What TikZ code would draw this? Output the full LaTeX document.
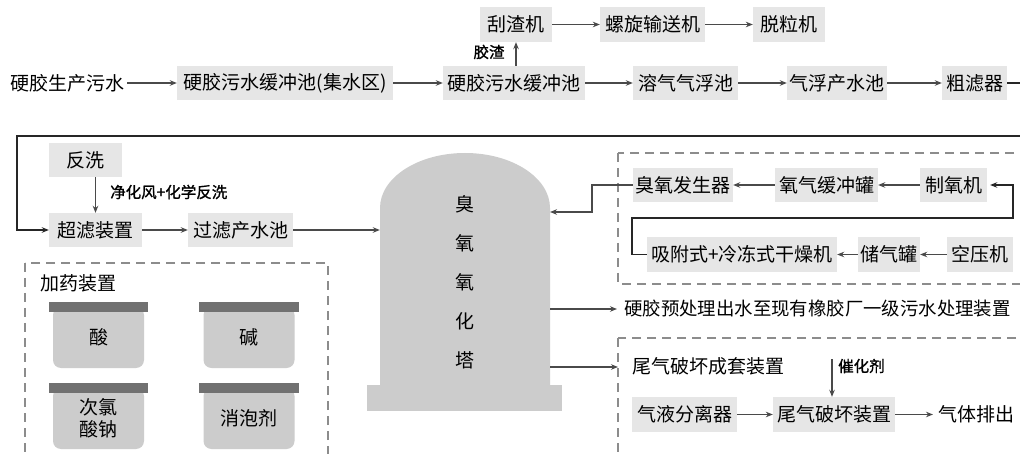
\documentclass[tikz,border=0pt]{standalone}
\usepackage{fontspec}
\setmainfont{Noto Sans CJK SC}
\newfontfamily\lblfont[FakeBold=1.2]{Noto Sans CJK SC}
\usetikzlibrary{arrows.meta}
\definecolor{boxgray}{HTML}{E6E6E6}
\definecolor{tankgray}{HTML}{CCCCCC}
\definecolor{lidgray}{HTML}{717171}
\definecolor{dashgray}{HTML}{8C8C8C}
\definecolor{linegray}{HTML}{4A4A4A}
\begin{document}
\begin{tikzpicture}[x=1pt,y=-1pt,
  font=\fontsize{19}{22}\selectfont,
  box/.style={fill=boxgray, inner sep=0pt, minimum height=34pt, text=black},
  plain/.style={inner sep=1pt, text=black},
  lbl/.style={inner sep=1pt, text=black, font=\lblfont\fontsize{15.5}{18}\selectfont},
  arr/.style={draw=linegray, line width=1.2pt, -{Stealth[length=7pt,width=5.5pt]}},
  fb/.style={draw=black!85, line width=1.7pt},
  fbarr/.style={fb, -{Stealth[length=7pt,width=5.5pt]}},
  dbox/.style={draw=dashgray, line width=2pt, dash pattern=on 9pt off 6pt},
  tank/.style={fill=tankgray, rounded corners=8pt, minimum width=91pt, minimum height=61pt, inner sep=0pt, text=black},
  lid/.style={fill=lidgray}]
\useasboundingbox (0,0) rectangle (1020,454);
\clip (0,0) rectangle (1020,454);
\fill[white] (0,0) rectangle (1020,454);

% row 1
\node[plain] (src) at (67,83) {硬胶生产污水};
\node[box, minimum width=216pt] (b1) at (285,83) {硬胶污水缓冲池(集水区)};
\node[box, minimum width=142pt] (b2) at (514,83) {硬胶污水缓冲池};
\node[box, minimum width=105pt] (b3) at (685.5,83) {溶气气浮池};
\node[box, minimum width=100pt] (b4) at (837,83) {气浮产水池};
\node[box, minimum width=65pt] (b5) at (974.5,83) {粗滤器};
% top row
\node[box, minimum width=72pt, minimum height=35pt] (t1) at (516,24.5) {刮渣机};
\node[box, minimum width=105pt, minimum height=35pt] (t2) at (652.5,24.5) {螺旋输送机};
\node[box, minimum width=72pt, minimum height=35pt] (t3) at (789,24.5) {脱粒机};
\node[lbl] (jz) at (489,52) {胶渣};

\draw[arr] ([xshift=2pt]src.east) -- (b1.west);
\draw[arr] (b1.east) -- (b2.west);
\draw[arr] (b2.east) -- (b3.west);
\draw[arr] (b3.east) -- (b4.west);
\draw[arr] (b4.east) -- (b5.west);
\draw[arr] (t1.south |- b2.north) -- (t1.south);
\draw[arr] (t1.east) -- (t2.west);
\draw[arr] (t2.east) -- (t3.west);

% row 2
\node[box, minimum width=73pt] (fx) at (85.5,160) {反洗};
\node[box, minimum width=93pt] (uf) at (95.5,230) {超滤装置};
\node[box, minimum width=105pt] (pool) at (240.5,230) {过滤产水池};
\node[lbl, anchor=west] (jh) at (109,192) {净化风+化学反洗};
\draw[arr] (uf.north |- fx.south) -- (uf.north);
\draw[arr] (uf.east) -- (pool.west);
\draw[fbarr] (b5.east) -- (1030,83) -- (1030,136) -- (17,136) -- (17,230) -- (uf.west);

% tower
\fill[tankgray] (380,385) -- (380,208) arc[start angle=180, end angle=360, x radius=85, y radius=55] -- (550,385) -- cycle;
\fill[tankgray] (367,385) rectangle (562,411);
\node[inner sep=0pt, minimum width=170pt, minimum height=232pt] (tower) at (465,269) {};
\foreach \c [count=\i] in {臭,氧,氧,化,塔}
  \node[plain] (tw\i) at (465,{204+39*(\i-1)}) {\c};
\draw[arr] (pool.east) -- (tower.west |- pool.east);

% ozone box
\draw[dbox] (618,153) rectangle (1030,284);
\node[box, minimum width=100pt] (g1) at (683,185) {臭氧发生器};
\node[box, minimum width=103pt] (g2) at (826.5,185) {氧气缓冲罐};
\node[box, minimum width=67pt] (g3) at (953.5,185) {制氧机};
\node[box, minimum width=190pt, minimum height=35pt] (g4) at (742,254.5) {吸附式+冷冻式干燥机};
\node[box, minimum width=62pt, minimum height=35pt] (g5) at (889,254.5) {储气罐};
\node[box, minimum width=66pt, minimum height=35pt] (g6) at (980,254.5) {空压机};
\draw[arr] (g3.west) -- (g2.east);
\draw[arr] (g2.west) -- (g1.east);
\draw[arr] (g6.west) -- (g5.east);
\draw[arr] (g5.west) -- (g4.east);
\draw[fbarr] (g4.west) -- (632,254.5) -- (632,218) -- (1013,218) |- ([xshift=3pt]g3.east);
\coordinate (tin) at (550,212);
\draw[arr] (g1.west) -- (592,185) -- (592,212) -- (tin);

% outputs
\node[plain, anchor=west, inner sep=0pt, font=\fontsize{18.4}{22}\selectfont] (out1) at (624,309) {硬胶预处理出水至现有橡胶厂一级污水处理装置};
\coordinate (e1) at (617,309);
\coordinate (e2) at (618,367);
\draw[arr] (tower.east |- e1) -- (e1);
\draw[arr] (tower.east |- e2) -- (e2);

% tail gas box
\draw[dbox] (618,338) rectangle (1030,470);
\node[plain, anchor=west, inner sep=0pt] (wq) at (632,366) {尾气破坏成套装置};
\node[box, minimum width=105pt, minimum height=35pt] (h1) at (684.5,414.5) {气液分离器};
\node[box, minimum width=122pt, minimum height=35pt] (h2) at (834,414.5) {尾气破坏装置};
\node[plain, anchor=west, inner sep=0pt] (h3) at (938,414.5) {气体排出};
\node[lbl, anchor=west] (cat) at (837,366) {催化剂};
\coordinate (cs) at (832,359);
\draw[arr] (cs) -- (h2.north -| cs);
\draw[arr] (h1.east) -- (h2.west);
\draw[arr] (h2.east) -- ([xshift=-5pt]h3.west);

% dosing box
\draw[dbox] (25,263) rectangle (328,470);
\node[plain, anchor=west, inner sep=0pt] (jy) at (40,283) {加药装置};
\node[tank] (k1) at (98.5,337.5) {酸};
\node[tank] (k2) at (249,337.5) {碱};
\node[tank, align=center, font=\fontsize{19}{22}\selectfont] (k3) at (98.5,418.5) {次氯\\酸钠};
\node[tank] (k4) at (249,418.5) {消泡剂};
\foreach \k in {k1,k2,k3,k4}
  \fill[lid] ([xshift=-4pt,yshift=5pt]\k.north west) rectangle ([xshift=4pt,yshift=-5pt]\k.north east);
\end{tikzpicture}
\end{document}
